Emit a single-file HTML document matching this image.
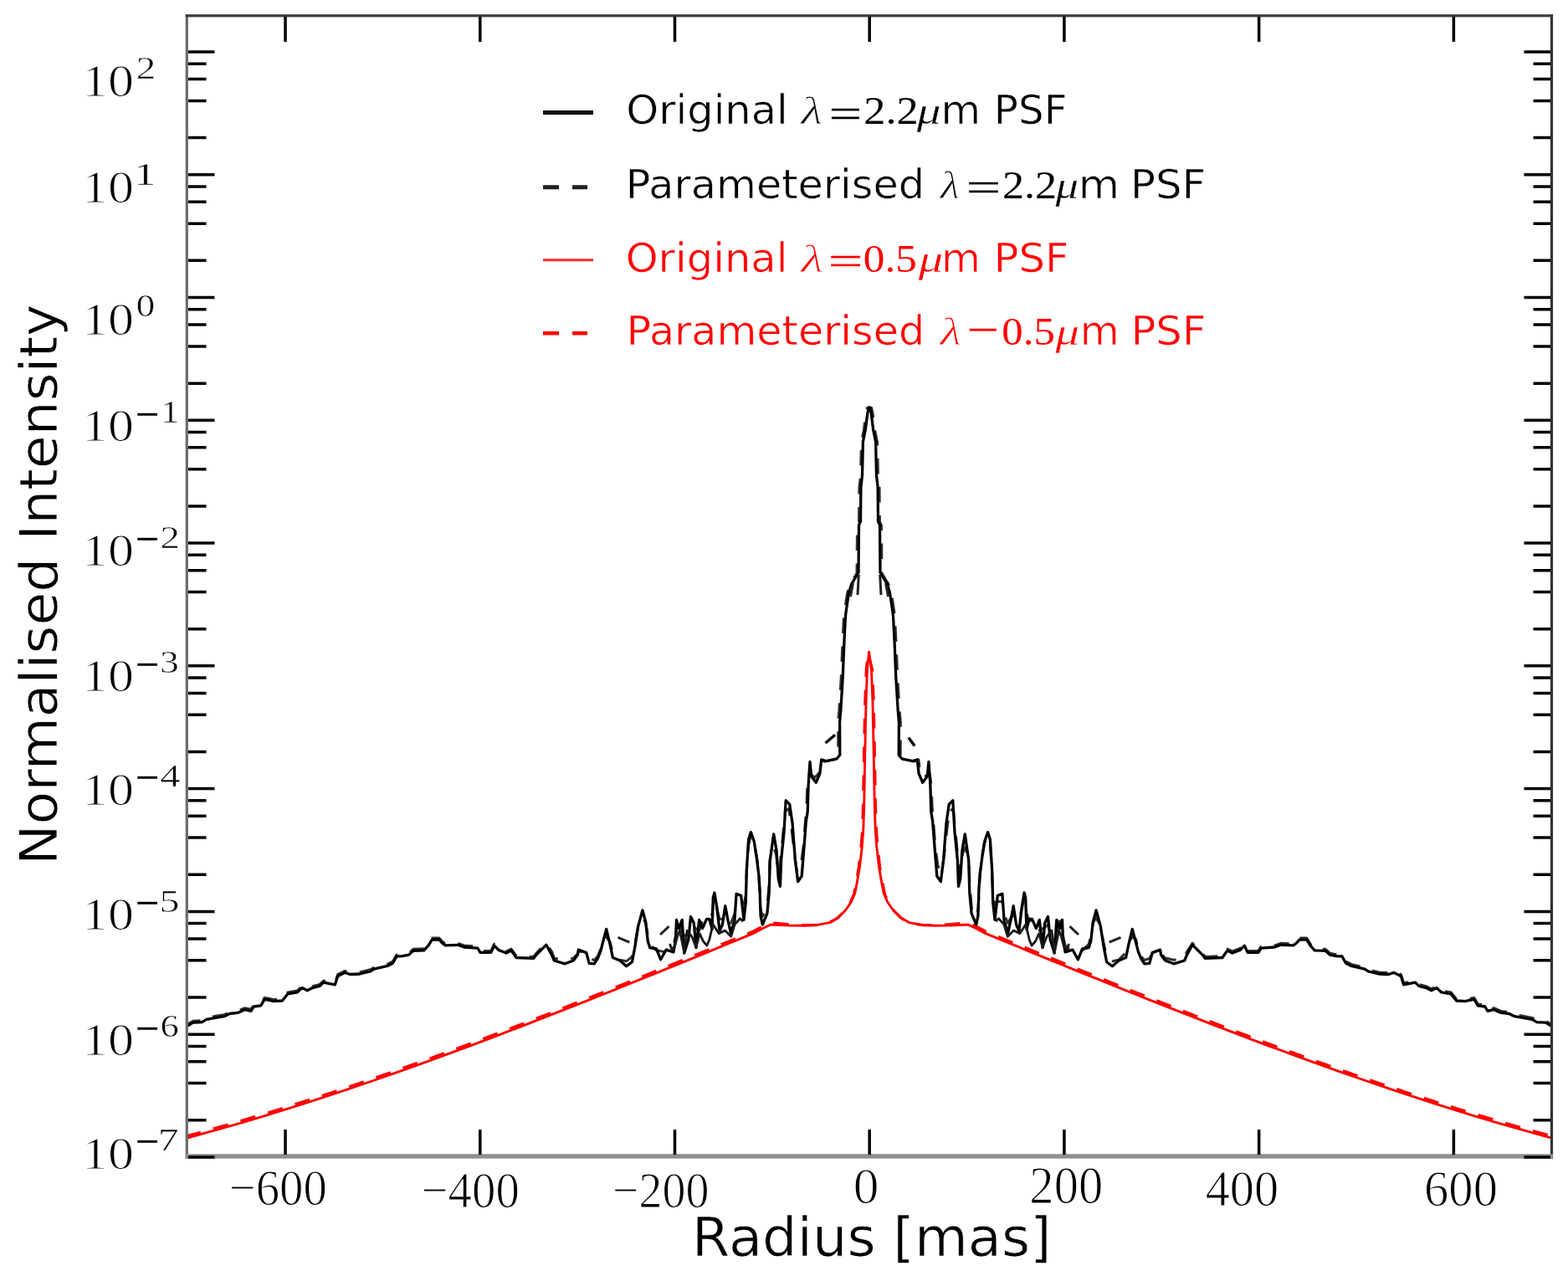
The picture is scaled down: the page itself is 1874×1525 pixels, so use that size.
<!DOCTYPE html>
<html><head><meta charset="utf-8"><title>PSF profile</title><style>html,body{margin:0;padding:0;background:#fff;overflow:hidden}svg{display:block}</style></head><body>
<svg width="1874" height="1525" viewBox="0 0 1874 1525">
<rect x="0" y="0" width="1874" height="1525" fill="#fff"/>
<defs><clipPath id="ax"><rect x="224" y="19" width="1630" height="1362"/></clipPath><clipPath id="eqtop"><rect x="1150" y="385" width="50" height="12.5"/></clipPath></defs>
<g clip-path="url(#ax)" fill="none" stroke-linejoin="round">
<polyline points="222.0,1358.0 238.0,1353.7 254.0,1349.2 270.0,1344.7 286.0,1340.1 302.0,1335.4 318.0,1330.6 334.0,1325.7 350.0,1320.7 366.0,1315.6 382.0,1310.4 398.0,1305.2 414.0,1299.8 430.0,1294.4 446.0,1289.0 462.0,1283.4 478.0,1277.8 494.0,1272.1 510.0,1266.4 526.0,1260.6 542.0,1254.7 558.0,1248.8 574.0,1242.8 590.0,1236.8 606.0,1230.7 622.0,1224.6 638.0,1218.4 654.0,1212.2 670.0,1205.9 686.0,1199.6 702.0,1193.3 718.0,1187.0 734.0,1180.6 750.0,1174.2 766.0,1167.7 782.0,1161.3 798.0,1154.8 814.0,1148.3 830.0,1141.8 846.0,1135.3 862.0,1128.7 878.0,1122.2 894.0,1115.7 900.0,1113.2 910.8,1107.5 920.9,1102.8 942.5,1104.7 959.3,1105.6 974.8,1105.6 990.3,1103.3 1000.8,1097.3 1009.2,1088.8 1015.8,1079.3 1020.5,1068.8 1023.3,1054.3 1026.3,1036.8 1029.0,1013.3 1030.6,992.3 1031.6,960.8 1032.6,900.8 1033.8,840.8 1035.3,800.8 1037.4,780.0 1042.7,800.8 1044.2,840.8 1045.4,900.8 1046.4,960.8 1047.4,992.3 1049.0,1013.3 1051.7,1036.8 1054.7,1054.3 1057.5,1068.8 1062.2,1079.3 1068.8,1088.8 1077.2,1097.3 1087.7,1103.3 1103.2,1105.6 1118.7,1105.6 1135.5,1104.7 1157.1,1102.8 1167.2,1107.5 1178.0,1113.2 1184.0,1115.7 1200.0,1122.2 1216.0,1128.7 1232.0,1135.3 1248.0,1141.8 1264.0,1148.3 1280.0,1154.8 1296.0,1161.3 1312.0,1167.7 1328.0,1174.2 1344.0,1180.6 1360.0,1187.0 1376.0,1193.3 1392.0,1199.6 1408.0,1205.9 1424.0,1212.2 1440.0,1218.4 1456.0,1224.6 1472.0,1230.7 1488.0,1236.8 1504.0,1242.8 1520.0,1248.8 1536.0,1254.7 1552.0,1260.6 1568.0,1266.4 1584.0,1272.1 1600.0,1277.8 1616.0,1283.4 1632.0,1289.0 1648.0,1294.4 1664.0,1299.8 1680.0,1305.2 1696.0,1310.4 1712.0,1315.6 1728.0,1320.7 1744.0,1325.7 1760.0,1330.6 1776.0,1335.4 1792.0,1340.1 1808.0,1344.7 1824.0,1349.2 1840.0,1353.7 1856.0,1358.0" stroke="#ff0000" stroke-width="3.2" stroke-dasharray="18.5 15.5"/>
<polyline points="222.0,1360.5 238.0,1356.2 254.0,1351.7 270.0,1347.2 286.0,1342.6 302.0,1337.9 318.0,1333.1 334.0,1328.2 350.0,1323.2 366.0,1318.1 382.0,1312.9 398.0,1307.7 414.0,1302.3 430.0,1296.9 446.0,1291.5 462.0,1285.9 478.0,1280.3 494.0,1274.6 510.0,1268.9 526.0,1263.1 542.0,1257.2 558.0,1251.3 574.0,1245.3 590.0,1239.3 606.0,1233.2 622.0,1227.1 638.0,1220.9 654.0,1214.7 670.0,1208.4 686.0,1202.1 702.0,1195.8 718.0,1189.5 734.0,1183.1 750.0,1176.7 766.0,1170.2 782.0,1163.8 798.0,1157.3 814.0,1150.8 830.0,1144.3 846.0,1137.8 862.0,1131.2 878.0,1124.7 894.0,1118.2 900.0,1115.7 910.8,1110.0 921.0,1105.0 942.9,1106.0 960.0,1106.2 975.7,1105.6 991.5,1102.6 1002.0,1096.5 1010.4,1088.0 1017.0,1078.5 1021.7,1068.0 1024.5,1053.5 1027.5,1036.0 1030.2,1012.5 1031.8,991.5 1032.8,960.0 1033.8,900.0 1035.0,840.0 1036.5,800.0 1038.6,779.2 1041.5,800.0 1043.0,840.0 1044.2,900.0 1045.2,960.0 1046.2,991.5 1047.8,1012.5 1050.5,1036.0 1053.5,1053.5 1056.3,1068.0 1061.0,1078.5 1067.6,1088.0 1076.0,1096.5 1086.5,1102.6 1102.3,1105.6 1118.0,1106.2 1135.1,1106.0 1157.0,1105.0 1167.2,1110.0 1178.0,1115.7 1184.0,1118.2 1200.0,1124.7 1216.0,1131.2 1232.0,1137.8 1248.0,1144.3 1264.0,1150.8 1280.0,1157.3 1296.0,1163.8 1312.0,1170.2 1328.0,1176.7 1344.0,1183.1 1360.0,1189.5 1376.0,1195.8 1392.0,1202.1 1408.0,1208.4 1424.0,1214.7 1440.0,1220.9 1456.0,1227.1 1472.0,1233.2 1488.0,1239.3 1504.0,1245.3 1520.0,1251.3 1536.0,1257.2 1552.0,1263.1 1568.0,1268.9 1584.0,1274.6 1600.0,1280.3 1616.0,1285.9 1632.0,1291.5 1648.0,1296.9 1664.0,1302.3 1680.0,1307.7 1696.0,1312.9 1712.0,1318.1 1728.0,1323.2 1744.0,1328.2 1760.0,1333.1 1776.0,1337.9 1792.0,1342.6 1808.0,1347.2 1824.0,1351.7 1840.0,1356.2 1856.0,1360.5" stroke="#ff0000" stroke-width="2.9"/>
<polyline points="222.0,1224.0 225.3,1223.4 230.7,1220.2 241.3,1219.6 246.7,1216.4 260.6,1213.8 268.0,1212.7 274.4,1209.5 284.0,1208.4 292.6,1204.7 300.0,1206.3 303.2,1201.0 311.8,1199.9 316.1,1192.4 322.5,1193.5 326.7,1194.6 337.4,1194.0 343.8,1186.0 355.5,1183.9 360.9,1178.6 367.3,1181.8 373.7,1178.6 382.2,1176.4 386.5,1172.2 400.4,1174.8 403.6,1164.7 407.8,1162.5 412.1,1160.4 418.5,1162.5 429.9,1162.0 442.7,1158.8 447.0,1156.2 463.0,1152.4 469.4,1149.2 474.0,1141.0 481.1,1140.7 488.6,1139.1 493.9,1134.3 506.7,1133.8 512.1,1127.9 516.3,1121.0 524.9,1121.0 528.1,1124.7 532.3,1127.9 547.3,1127.3 554.7,1130.0 570.8,1131.1 574.0,1136.4 586.8,1136.4 590.7,1128.2 596.0,1133.5 605.1,1137.0 611.1,1134.0 617.1,1142.5 637.6,1143.4 641.0,1139.1 652.9,1127.2 659.8,1137.7 662.3,1145.3 675.1,1147.3 685.4,1145.0 690.5,1139.4 691.4,1136.3 700.8,1139.7 704.2,1145.3 710.2,1147.5 714.4,1142.7 717.8,1134.3 720.4,1122.6 724.7,1119.8 729.0,1125.7 732.4,1138.3 740.9,1147.1 748.6,1148.8 755.4,1143.3 758.9,1127.4 762.7,1106.8 767.9,1097.0 771.7,1103.0 774.3,1117.9 776.8,1128.6 784.5,1135.8 789.6,1136.7 796.0,1137.9 805.0,1129.8 807.6,1117.9 808.5,1108.5 811.4,1100.8 815.2,1114.0 817.8,1118.3 822.9,1117.0 825.5,1105.0 829.3,1108.5 831.9,1109.8 835.7,1111.9 839.6,1100.4 844.5,1100.1 847.8,1100.4 851.1,1091.8 852.3,1081.4 853.9,1072.5 856.7,1085.9 860.1,1098.5 863.4,1098.2 866.8,1094.1 870.1,1097.4 873.4,1103.3 877.9,1092.6 880.1,1077.7 885.7,1077.3 889.0,1080.7 891.3,1070.3 892.4,1038.3 894.6,1010.4 897.4,999.3 901.3,1007.5 904.6,1024.7 906.7,1043.4 907.8,1065.7 908.9,1085.4 911.1,1095.5 916.5,1086.4 918.8,1060.8 919.9,1029.2 924.2,1012.6 927.5,1020.1 929.7,1041.0 931.8,1044.8 932.9,1026.3 936.2,992.2 938.4,969.9 942.8,966.3 946.0,990.2 949.4,1021.1 952.6,1042.4 957.0,1035.1 960.2,1011.0 962.1,985.5 963.9,963.3 964.8,939.8 966.6,925.8 968.4,924.6 973.8,929.3 978.3,924.6 980.0,908.1 985.4,910.1 998.1,907.6 1001.8,903.0 1001.6,863.6 1002.8,849.9 1005.3,809.0 1007.0,766.4 1008.3,740.8 1008.8,734.2 1010.8,720.4 1012.7,708.6 1015.7,698.8 1020.6,690.8 1024.0,685.0 1024.5,628.0 1026.5,624.0 1026.9,582.8 1028.5,569.0 1029.4,528.6 1032.4,513.9 1034.8,494.8 1036.3,487.6 1041.7,487.6 1043.2,494.8 1045.6,513.9 1048.6,528.6 1049.5,569.0 1051.1,582.8 1051.5,624.0 1053.5,628.0 1054.0,685.0 1057.4,690.8 1062.3,698.8 1065.3,708.6 1067.2,720.4 1069.2,734.2 1069.7,740.8 1071.0,766.4 1072.7,809.0 1075.2,849.9 1076.4,863.6 1076.2,903.0 1079.9,907.6 1092.6,910.1 1098.0,908.1 1099.7,924.6 1104.2,929.3 1109.6,924.6 1111.4,925.8 1113.2,939.8 1114.1,963.3 1115.9,985.5 1117.8,1011.1 1121.0,1035.1 1125.4,1042.4 1128.6,1021.1 1132.0,990.2 1135.2,966.3 1139.6,969.9 1141.8,992.2 1145.1,1026.3 1146.2,1044.8 1148.3,1041.0 1150.5,1020.1 1153.8,1012.6 1158.1,1029.2 1159.2,1060.8 1161.5,1086.4 1166.9,1095.5 1169.1,1085.4 1170.2,1065.7 1171.3,1043.4 1173.4,1024.7 1176.7,1007.5 1180.6,999.3 1183.4,1010.4 1185.6,1038.3 1186.7,1070.3 1189.0,1080.7 1192.3,1077.3 1197.9,1077.7 1200.1,1092.6 1204.6,1103.3 1207.9,1097.4 1211.2,1094.1 1214.6,1098.2 1217.9,1098.5 1221.3,1085.9 1224.1,1072.5 1225.7,1081.4 1226.9,1091.8 1230.2,1100.4 1233.5,1100.1 1238.4,1100.4 1242.3,1111.9 1246.1,1109.8 1248.7,1108.5 1252.5,1105.0 1255.1,1117.0 1260.2,1118.3 1262.8,1114.0 1266.6,1100.8 1269.5,1108.5 1270.4,1117.9 1273.0,1129.8 1282.0,1137.9 1288.4,1136.7 1293.5,1135.8 1301.2,1128.6 1303.7,1117.9 1306.3,1103.0 1310.1,1097.0 1315.3,1106.8 1319.1,1127.4 1322.6,1143.3 1329.4,1148.8 1337.1,1147.1 1345.6,1138.3 1349.0,1125.7 1353.3,1119.8 1357.6,1122.6 1360.2,1134.3 1363.6,1142.7 1367.8,1147.5 1373.8,1145.3 1377.2,1139.7 1386.6,1136.3 1387.5,1139.4 1392.6,1145.0 1402.9,1147.3 1415.7,1145.3 1418.2,1137.7 1425.1,1127.2 1437.0,1139.1 1440.4,1143.4 1460.9,1142.5 1466.9,1134.0 1472.9,1137.0 1482.0,1133.5 1487.3,1128.2 1491.2,1136.4 1504.0,1136.4 1507.2,1131.1 1523.3,1130.0 1530.7,1127.3 1545.7,1127.9 1549.9,1124.7 1553.1,1121.0 1561.7,1121.0 1565.9,1127.9 1571.3,1133.8 1584.1,1134.3 1589.4,1139.1 1596.9,1140.7 1604.0,1141.0 1608.6,1149.2 1615.0,1152.4 1631.0,1156.2 1635.3,1158.8 1648.1,1162.0 1659.5,1162.5 1665.9,1160.4 1670.2,1162.5 1674.4,1164.7 1677.6,1174.8 1691.5,1172.2 1695.8,1176.4 1704.3,1178.6 1710.7,1181.8 1717.1,1178.6 1722.5,1183.9 1734.2,1186.0 1740.6,1194.0 1751.3,1194.6 1755.5,1193.5 1761.9,1192.4 1766.2,1199.9 1774.8,1201.0 1778.0,1206.3 1785.4,1204.7 1794.0,1208.4 1803.6,1209.5 1810.0,1212.7 1817.4,1213.8 1831.3,1216.4 1836.7,1219.6 1847.3,1220.2 1852.7,1223.4 1856.0,1224.0" stroke="#333" stroke-width="3.0" stroke-dasharray="18.5 15.5"/>
<polyline points="222.0,1226.0 225.3,1225.4 230.7,1222.2 241.3,1221.6 246.7,1218.4 260.6,1215.8 268.0,1214.7 274.4,1211.5 284.0,1210.4 292.6,1206.7 300.0,1208.3 303.2,1203.0 311.8,1201.9 316.1,1194.4 322.5,1195.5 326.7,1196.6 337.4,1196.0 343.8,1188.0 355.5,1185.9 360.9,1180.6 367.3,1183.8 373.7,1180.6 382.2,1178.4 386.5,1174.2 400.4,1176.8 403.6,1166.7 407.8,1164.5 412.1,1162.4 418.5,1164.5 429.9,1164.0 442.7,1160.8 447.0,1158.2 463.0,1154.4 469.4,1151.2 474.0,1143.0 481.1,1142.7 488.6,1141.1 493.9,1136.3 506.7,1135.8 512.1,1129.9 516.3,1123.0 524.9,1123.0 528.1,1126.7 532.3,1129.9 547.3,1129.3 554.7,1132.0 570.8,1133.1 574.0,1138.4 586.8,1138.4 590.7,1130.2 596.0,1135.5 605.1,1139.0 611.1,1136.0 617.1,1144.5 637.6,1145.4 641.0,1141.1 652.9,1129.2 659.8,1142.0 662.3,1148.0 675.1,1151.8 685.4,1148.0 690.5,1141.1 691.4,1135.1 700.8,1138.6 704.2,1151.4 710.2,1151.8 714.4,1145.4 717.8,1136.9 720.4,1126.6 724.7,1110.4 729.0,1128.3 732.4,1144.5 740.9,1148.0 748.6,1154.8 755.4,1149.7 758.9,1131.4 762.7,1107.0 767.9,1087.9 771.7,1102.0 774.3,1125.0 776.8,1132.7 784.5,1134.0 789.6,1146.8 796.0,1135.2 805.0,1137.8 807.6,1122.4 808.5,1099.4 811.4,1109.6 815.2,1099.4 817.8,1139.1 822.9,1122.4 825.5,1095.5 829.3,1103.2 831.9,1132.7 835.7,1099.4 839.6,1109.6 844.5,1098.3 847.8,1098.3 851.1,1110.5 852.3,1072.6 853.9,1067.0 856.7,1083.8 860.1,1112.8 863.4,1105.0 866.8,1082.7 870.1,1100.5 873.4,1115.0 877.9,1100.5 880.1,1068.2 885.7,1070.4 889.0,1099.4 891.3,1078.2 892.4,1039.2 894.6,1003.5 897.4,994.6 901.3,1005.7 904.7,1028.0 906.9,1045.9 908.0,1061.5 909.1,1094.9 911.3,1105.0 916.9,1091.6 919.2,1067.0 920.3,1028.0 924.7,996.8 928.1,1016.9 930.3,1050.3 932.5,1059.3 933.6,1028.0 937.0,994.6 939.2,956.7 943.7,961.1 947.0,983.4 950.4,1028.0 953.7,1053.7 958.2,1047.0 961.5,1005.7 963.4,981.2 965.2,970.2 966.1,939.0 968.0,910.5 969.8,928.0 975.3,935.3 979.9,924.3 981.7,907.8 987.2,909.6 1000.1,906.8 1003.8,902.2 1003.6,862.8 1004.8,849.1 1007.3,808.2 1009.0,765.6 1010.3,740.0 1010.8,733.4 1012.8,719.6 1014.7,707.8 1017.7,698.0 1022.6,690.0 1026.0,684.2 1026.5,627.2 1028.5,623.2 1028.9,582.0 1030.5,568.2 1031.4,527.8 1034.4,513.1 1036.8,494.0 1038.3,486.8 1039.7,486.8 1041.2,494.0 1043.6,513.1 1046.6,527.8 1047.5,568.2 1049.1,582.0 1049.5,623.2 1051.5,627.2 1052.0,684.2 1055.4,690.0 1060.3,698.0 1063.3,707.8 1065.2,719.6 1067.2,733.4 1067.7,740.0 1069.0,765.6 1070.7,808.2 1073.2,849.1 1074.4,862.8 1074.2,902.2 1077.9,906.8 1090.8,909.6 1096.3,907.8 1098.1,924.3 1102.7,935.3 1108.2,928.0 1110.0,910.5 1111.9,939.0 1112.8,970.2 1114.6,981.2 1116.5,1005.7 1119.8,1047.0 1124.3,1053.7 1127.6,1028.0 1131.0,983.4 1134.3,961.1 1138.8,956.7 1141.0,994.6 1144.4,1028.0 1145.5,1059.3 1147.7,1050.3 1149.9,1016.9 1153.3,996.8 1157.7,1028.0 1158.8,1067.0 1161.1,1091.6 1166.7,1105.0 1168.9,1094.9 1170.0,1061.5 1171.1,1045.9 1173.3,1028.0 1176.7,1005.7 1180.6,994.6 1183.4,1003.5 1185.6,1039.2 1186.7,1078.2 1189.0,1099.4 1192.3,1070.4 1197.9,1068.2 1200.1,1100.5 1204.6,1115.0 1207.9,1100.5 1211.2,1082.7 1214.6,1105.0 1217.9,1112.8 1221.3,1083.8 1224.1,1067.0 1225.7,1072.6 1226.9,1110.5 1230.2,1098.3 1233.5,1098.3 1238.4,1109.6 1242.3,1099.4 1246.1,1132.7 1248.7,1103.2 1252.5,1095.5 1255.1,1122.4 1260.2,1139.1 1262.8,1099.4 1266.6,1109.6 1269.5,1099.4 1270.4,1122.4 1273.0,1137.8 1282.0,1135.2 1288.4,1146.8 1293.5,1134.0 1301.2,1132.7 1303.7,1125.0 1306.3,1102.0 1310.1,1087.9 1315.3,1107.0 1319.1,1131.4 1322.6,1149.7 1329.4,1154.8 1337.1,1148.0 1345.6,1144.5 1349.0,1128.3 1353.3,1110.4 1357.6,1126.6 1360.2,1136.9 1363.6,1145.4 1367.8,1151.8 1373.8,1151.4 1377.2,1138.6 1386.6,1135.1 1387.5,1141.1 1392.6,1148.0 1402.9,1151.8 1415.7,1148.0 1418.2,1142.0 1425.1,1129.2 1437.0,1141.1 1440.4,1145.4 1460.9,1144.5 1466.9,1136.0 1472.9,1139.0 1482.0,1135.5 1487.3,1130.2 1491.2,1138.4 1504.0,1138.4 1507.2,1133.1 1523.3,1132.0 1530.7,1129.3 1545.7,1129.9 1549.9,1126.7 1553.1,1123.0 1561.7,1123.0 1565.9,1129.9 1571.3,1135.8 1584.1,1136.3 1589.4,1141.1 1596.9,1142.7 1604.0,1143.0 1608.6,1151.2 1615.0,1154.4 1631.0,1158.2 1635.3,1160.8 1648.1,1164.0 1659.5,1164.5 1665.9,1162.4 1670.2,1164.5 1674.4,1166.7 1677.6,1176.8 1691.5,1174.2 1695.8,1178.4 1704.3,1180.6 1710.7,1183.8 1717.1,1180.6 1722.5,1185.9 1734.2,1188.0 1740.6,1196.0 1751.3,1196.6 1755.5,1195.5 1761.9,1194.4 1766.2,1201.9 1774.8,1203.0 1778.0,1208.3 1785.4,1206.7 1794.0,1210.4 1803.6,1211.5 1810.0,1214.7 1817.4,1215.8 1831.3,1218.4 1836.7,1221.6 1847.3,1222.2 1852.7,1225.4 1856.0,1226.0" stroke="#000" stroke-width="3.3"/>
<polyline points="800.5,1128.0 803.0,1135.0 806.7,1130.1 809.6,1119.3 812.4,1112.1 815.0,1125.0 817.5,1137.3 821.1,1112.1 826.9,1119.3 831.9,1132.3 836.2,1115.7 840.5,1125.0 844.9,1130.1 847.8,1122.9 852.1,1104.9 859.3,1115.7 866.5,1112.1 873.7,1119.3 878.1,1104.9 884.5,1097.7 888.1,1101.3" stroke="#1a1a1a" stroke-width="2.8"/>
<polyline points="1189.9,1101.3 1193.5,1097.7 1199.9,1104.9 1204.3,1119.3 1211.5,1112.1 1218.7,1115.7 1225.9,1104.9 1230.2,1122.9 1233.1,1130.1 1237.5,1125.0 1241.8,1115.7 1246.1,1132.3 1251.1,1119.3 1256.9,1112.1 1260.5,1137.3 1263.0,1125.0 1265.6,1112.1 1268.4,1119.3 1271.3,1130.1 1275.0,1135.0 1277.5,1128.0" stroke="#1a1a1a" stroke-width="2.8"/>
<polyline points="738.5,1120.3 752.3,1126.2" stroke="#222" stroke-width="3"/>
<polyline points="1325.7,1126.2 1339.5,1120.3" stroke="#222" stroke-width="3"/>
<polyline points="789.0,1117.0 799.5,1107.2" stroke="#222" stroke-width="3"/>
<polyline points="1278.5,1107.2 1289.0,1117.0" stroke="#222" stroke-width="3"/>
<polyline points="1026.3,687.0 1025.0,711.0" stroke="#222" stroke-width="3"/>
<polyline points="1053.0,711.0 1051.7,687.0" stroke="#222" stroke-width="3"/>
<polyline points="1019.5,697.0 1016.5,713.0" stroke="#222" stroke-width="3"/>
<polyline points="1061.5,713.0 1058.5,697.0" stroke="#222" stroke-width="3"/>
<line x1="986.6" y1="888" x2="998.1" y2="878.3" stroke="#000" stroke-width="3.4"/>
<line x1="1085.8" y1="881.5" x2="1093.2" y2="891.6" stroke="#000" stroke-width="3.4"/>
</g>
<rect x="221.7" y="17.2" width="3.2" height="1367.6" fill="#6a6a6a"/>
<rect x="1852.9" y="17.2" width="3.2" height="1367.6" fill="#333"/>
<rect x="221.7" y="17.2" width="1634.4" height="3.2" fill="#3c3c3c"/>
<rect x="221.7" y="1379.2" width="1634.4" height="5.4" fill="#8f8f8f"/>
<path d="M341.04 1380V1350 M341.04 20V50 M573.76 1380V1350 M573.76 20V50 M806.48 1380V1350 M806.48 20V50 M1039.20 1380V1350 M1039.20 20V50 M1271.92 1380V1350 M1271.92 20V50 M1504.64 1380V1350 M1504.64 20V50 M1737.36 1380V1350 M1737.36 20V50 M225 1382.93H256.5 M1853 1382.93H1821.5 M225 1338.75H246.5 M1853 1338.75H1832.5 M225 1294.57H246.5 M1853 1294.57H1832.5 M225 1268.72H246.5 M1853 1268.72H1832.5 M225 1250.38H246.5 M1853 1250.38H1832.5 M225 1236.16H256.5 M1853 1236.16H1821.5 M225 1191.98H246.5 M1853 1191.98H1832.5 M225 1147.80H246.5 M1853 1147.80H1832.5 M225 1121.95H246.5 M1853 1121.95H1832.5 M225 1103.61H246.5 M1853 1103.61H1832.5 M225 1089.39H256.5 M1853 1089.39H1821.5 M225 1045.21H246.5 M1853 1045.21H1832.5 M225 1001.03H246.5 M1853 1001.03H1832.5 M225 975.18H246.5 M1853 975.18H1832.5 M225 956.84H246.5 M1853 956.84H1832.5 M225 942.62H256.5 M1853 942.62H1821.5 M225 898.44H246.5 M1853 898.44H1832.5 M225 854.26H246.5 M1853 854.26H1832.5 M225 828.41H246.5 M1853 828.41H1832.5 M225 810.07H246.5 M1853 810.07H1832.5 M225 795.85H256.5 M1853 795.85H1821.5 M225 751.67H246.5 M1853 751.67H1832.5 M225 707.49H246.5 M1853 707.49H1832.5 M225 681.64H246.5 M1853 681.64H1832.5 M225 663.30H246.5 M1853 663.30H1832.5 M225 649.08H256.5 M1853 649.08H1821.5 M225 604.90H246.5 M1853 604.90H1832.5 M225 560.72H246.5 M1853 560.72H1832.5 M225 534.87H246.5 M1853 534.87H1832.5 M225 516.53H246.5 M1853 516.53H1832.5 M225 502.31H256.5 M1853 502.31H1821.5 M225 458.13H246.5 M1853 458.13H1832.5 M225 413.95H246.5 M1853 413.95H1832.5 M225 388.10H246.5 M1853 388.10H1832.5 M225 369.76H246.5 M1853 369.76H1832.5 M225 355.54H256.5 M1853 355.54H1821.5 M225 311.36H246.5 M1853 311.36H1832.5 M225 267.18H246.5 M1853 267.18H1832.5 M225 241.33H246.5 M1853 241.33H1832.5 M225 222.99H246.5 M1853 222.99H1832.5 M225 208.77H256.5 M1853 208.77H1821.5 M225 164.59H246.5 M1853 164.59H1832.5 M225 120.41H246.5 M1853 120.41H1832.5 M225 94.56H246.5 M1853 94.56H1832.5 M225 76.22H246.5 M1853 76.22H1832.5 M225 62.00H256.5 M1853 62.00H1821.5" stroke="#000" stroke-width="3.5" fill="none"/>
<text transform="translate(97.91,115.00) scale(1.1255,1)" font-family="&quot;Liberation Serif&quot;, serif" font-style="normal" font-size="55.15" fill="#000" stroke="#fff" stroke-width="1.1" >10</text>
<text transform="translate(162.72,93.60) scale(1.2319,1)" font-family="&quot;Liberation Serif&quot;, serif" font-style="normal" font-size="38.15" fill="#000" stroke="#fff" stroke-width="0.5" >2</text>
<text transform="translate(97.91,242.10) scale(1.1255,1)" font-family="&quot;Liberation Serif&quot;, serif" font-style="normal" font-size="55.15" fill="#000" stroke="#fff" stroke-width="1.1" >10</text>
<text transform="translate(159.77,220.70) scale(1.4295,1)" font-family="&quot;Liberation Serif&quot;, serif" font-style="normal" font-size="37.58" fill="#000" stroke="#fff" stroke-width="0.5" >1</text>
<text transform="translate(97.91,400.40) scale(1.1255,1)" font-family="&quot;Liberation Serif&quot;, serif" font-style="normal" font-size="55.15" fill="#000" stroke="#fff" stroke-width="1.1" >10</text>
<text transform="translate(162.81,378.26) scale(1.2093,1)" font-family="&quot;Liberation Serif&quot;, serif" font-style="normal" font-size="37.01" fill="#000" stroke="#fff" stroke-width="0.5" >0</text>
<text transform="translate(97.91,526.70) scale(1.1255,1)" font-family="&quot;Liberation Serif&quot;, serif" font-style="normal" font-size="55.15" fill="#000" stroke="#fff" stroke-width="1.1" >10</text>
<text transform="translate(161.76,514.50) scale(0.8475,1)" font-family="&quot;Liberation Serif&quot;, serif" font-style="normal" font-size="60.00" fill="#000"  >−</text>
<text transform="translate(192.01,505.30) scale(1.2090,1)" font-family="&quot;Liberation Serif&quot;, serif" font-style="normal" font-size="37.58" fill="#000" stroke="#fff" stroke-width="0.5" >1</text>
<text transform="translate(97.91,676.30) scale(1.1255,1)" font-family="&quot;Liberation Serif&quot;, serif" font-style="normal" font-size="55.15" fill="#000" stroke="#fff" stroke-width="1.1" >10</text>
<text transform="translate(161.76,664.10) scale(0.8475,1)" font-family="&quot;Liberation Serif&quot;, serif" font-style="normal" font-size="60.00" fill="#000"  >−</text>
<text transform="translate(191.53,654.90) scale(1.2253,1)" font-family="&quot;Liberation Serif&quot;, serif" font-style="normal" font-size="38.15" fill="#000" stroke="#fff" stroke-width="0.5" >2</text>
<text transform="translate(97.91,825.80) scale(1.1255,1)" font-family="&quot;Liberation Serif&quot;, serif" font-style="normal" font-size="55.15" fill="#000" stroke="#fff" stroke-width="1.1" >10</text>
<text transform="translate(161.76,813.60) scale(0.8475,1)" font-family="&quot;Liberation Serif&quot;, serif" font-style="normal" font-size="60.00" fill="#000"  >−</text>
<text transform="translate(191.12,804.02) scale(1.2138,1)" font-family="&quot;Liberation Serif&quot;, serif" font-style="normal" font-size="37.58" fill="#000" stroke="#fff" stroke-width="0.5" >3</text>
<text transform="translate(97.91,961.60) scale(1.1255,1)" font-family="&quot;Liberation Serif&quot;, serif" font-style="normal" font-size="55.15" fill="#000" stroke="#fff" stroke-width="1.1" >10</text>
<text transform="translate(161.76,949.40) scale(0.8475,1)" font-family="&quot;Liberation Serif&quot;, serif" font-style="normal" font-size="60.00" fill="#000"  >−</text>
<text transform="translate(191.23,940.20) scale(1.2763,1)" font-family="&quot;Liberation Serif&quot;, serif" font-style="normal" font-size="38.15" fill="#000" stroke="#fff" stroke-width="0.5" >4</text>
<text transform="translate(97.91,1111.30) scale(1.1255,1)" font-family="&quot;Liberation Serif&quot;, serif" font-style="normal" font-size="55.15" fill="#000" stroke="#fff" stroke-width="1.1" >10</text>
<text transform="translate(161.76,1099.10) scale(0.8475,1)" font-family="&quot;Liberation Serif&quot;, serif" font-style="normal" font-size="60.00" fill="#000"  >−</text>
<text transform="translate(190.52,1089.52) scale(1.2774,1)" font-family="&quot;Liberation Serif&quot;, serif" font-style="normal" font-size="37.58" fill="#000" stroke="#fff" stroke-width="0.5" >5</text>
<text transform="translate(97.91,1260.80) scale(1.1255,1)" font-family="&quot;Liberation Serif&quot;, serif" font-style="normal" font-size="55.15" fill="#000" stroke="#fff" stroke-width="1.1" >10</text>
<text transform="translate(161.76,1248.60) scale(0.8475,1)" font-family="&quot;Liberation Serif&quot;, serif" font-style="normal" font-size="60.00" fill="#000"  >−</text>
<text transform="translate(191.61,1238.66) scale(1.2063,1)" font-family="&quot;Liberation Serif&quot;, serif" font-style="normal" font-size="37.01" fill="#000" stroke="#fff" stroke-width="0.5" >6</text>
<text transform="translate(97.91,1396.60) scale(1.1255,1)" font-family="&quot;Liberation Serif&quot;, serif" font-style="normal" font-size="55.15" fill="#000" stroke="#fff" stroke-width="1.1" >10</text>
<text transform="translate(161.76,1384.40) scale(0.8475,1)" font-family="&quot;Liberation Serif&quot;, serif" font-style="normal" font-size="60.00" fill="#000"  >−</text>
<text transform="translate(188.72,1375.20) scale(1.3039,1)" font-family="&quot;Liberation Serif&quot;, serif" font-style="normal" font-size="38.15" fill="#000" stroke="#fff" stroke-width="0.5" >7</text>
<text transform="translate(273.66,1439.97) scale(0.9217,1)" font-family="&quot;Liberation Serif&quot;, serif" font-style="normal" font-size="61.64" fill="#000" stroke="#fff" stroke-width="1.1" >−600</text>
<text transform="translate(503.56,1443.27) scale(0.9217,1)" font-family="&quot;Liberation Serif&quot;, serif" font-style="normal" font-size="61.64" fill="#000" stroke="#fff" stroke-width="1.1" >−400</text>
<text transform="translate(731.90,1443.27) scale(0.9078,1)" font-family="&quot;Liberation Serif&quot;, serif" font-style="normal" font-size="61.64" fill="#000" stroke="#fff" stroke-width="1.1" >−200</text>
<text transform="translate(1019.84,1437.59) scale(1.0112,1)" font-family="&quot;Liberation Serif&quot;, serif" font-style="normal" font-size="60.75" fill="#000" stroke="#fff" stroke-width="1.1" >0</text>
<text transform="translate(1230.36,1438.35) scale(0.9391,1)" font-family="&quot;Liberation Serif&quot;, serif" font-style="normal" font-size="62.39" fill="#000" stroke="#fff" stroke-width="1.1" >200</text>
<text transform="translate(1440.63,1441.36) scale(0.9452,1)" font-family="&quot;Liberation Serif&quot;, serif" font-style="normal" font-size="61.79" fill="#000" stroke="#fff" stroke-width="1.1" >400</text>
<text transform="translate(1702.06,1441.36) scale(0.9482,1)" font-family="&quot;Liberation Serif&quot;, serif" font-style="normal" font-size="61.79" fill="#000" stroke="#fff" stroke-width="1.1" >600</text>
<text transform="translate(826.85,1501.02) scale(1.0162,1)" font-family="&quot;DejaVu Sans&quot;, serif" font-style="normal" font-size="64.49" fill="#000" stroke="#fff" stroke-width="0.7" >Radius [mas]</text>
<text transform="translate(68.40,1033.99) rotate(-90) scale(1.0398,1)" font-family="&quot;DejaVu Sans&quot;, sans-serif" font-size="62.37" fill="#000" stroke="#fff" stroke-width="0.7">Normalised Intensity</text>
<path d="M649 134.5H709" stroke="#111" stroke-width="5"/>
<path d="M649 223.7H668M684 223.7H702" stroke="#222" stroke-width="5"/>
<path d="M649 310.8H709" stroke="#ff2a2a" stroke-width="3"/>
<path d="M649 398.2H668M684 398.2H702" stroke="#ff0000" stroke-width="4.5"/>
<text transform="translate(748.23,148.30) scale(1.0414,1)" font-family="&quot;DejaVu Sans&quot;, sans-serif" font-style="normal" font-size="47.50" fill="#000" stroke="#fff" stroke-width="0.6">Original</text>
<text transform="translate(957.20,148.30) scale(1.2939,1)" font-family="&quot;Liberation Serif&quot;, sans-serif" font-style="italic" font-size="46.55" fill="#000" stroke="#fff" stroke-width="1.0">λ</text>
<text transform="translate(990.71,150.80) scale(1.4992,1)" font-family="&quot;Liberation Serif&quot;, sans-serif" font-style="normal" font-size="46.55" fill="#000" stroke="#000" stroke-width="0.4">=</text>
<text transform="translate(1032.31,148.30) scale(1.1227,1)" font-family="&quot;Liberation Serif&quot;, sans-serif" font-style="normal" font-size="46.55" fill="#000" >2.2</text>
<text transform="translate(1095.70,148.30) scale(1.2341,1)" font-family="&quot;Liberation Serif&quot;, sans-serif" font-style="italic" font-size="46.55" fill="#000" stroke="#fff" stroke-width="0.4">μ</text>
<text transform="translate(1124.50,148.30) scale(1.0289,1)" font-family="&quot;DejaVu Sans&quot;, sans-serif" font-style="normal" font-size="47.50" fill="#000" stroke="#fff" stroke-width="0.6">m</text>
<text transform="translate(1187.86,148.30) scale(1.0182,1)" font-family="&quot;DejaVu Sans&quot;, sans-serif" font-style="normal" font-size="47.50" fill="#000" stroke="#fff" stroke-width="0.6">PSF</text>
<text transform="translate(747.87,236.60) scale(1.0371,1)" font-family="&quot;DejaVu Sans&quot;, sans-serif" font-style="normal" font-size="47.50" fill="#000" stroke="#fff" stroke-width="0.6">Parameterised</text>
<text transform="translate(1123.78,236.60) scale(1.1640,1)" font-family="&quot;Liberation Serif&quot;, sans-serif" font-style="italic" font-size="46.55" fill="#000" stroke="#fff" stroke-width="1.0">λ</text>
<text transform="translate(1154.64,239.10) scale(1.5723,1)" font-family="&quot;Liberation Serif&quot;, sans-serif" font-style="normal" font-size="46.55" fill="#000" stroke="#000" stroke-width="0.4">=</text>
<text transform="translate(1197.91,236.60) scale(1.1208,1)" font-family="&quot;Liberation Serif&quot;, sans-serif" font-style="normal" font-size="46.55" fill="#000" >2.2</text>
<text transform="translate(1261.40,236.60) scale(1.1792,1)" font-family="&quot;Liberation Serif&quot;, sans-serif" font-style="italic" font-size="46.55" fill="#000" stroke="#fff" stroke-width="0.4">μ</text>
<text transform="translate(1288.74,236.60) scale(1.0658,1)" font-family="&quot;DejaVu Sans&quot;, sans-serif" font-style="normal" font-size="47.50" fill="#000" stroke="#fff" stroke-width="0.6">m</text>
<text transform="translate(1350.92,236.60) scale(1.0475,1)" font-family="&quot;DejaVu Sans&quot;, sans-serif" font-style="normal" font-size="47.50" fill="#000" stroke="#fff" stroke-width="0.6">PSF</text>
<text transform="translate(747.63,324.60) scale(1.0431,1)" font-family="&quot;DejaVu Sans&quot;, sans-serif" font-style="normal" font-size="47.50" fill="#ff0000" stroke="#fff" stroke-width="0.6">Original</text>
<text transform="translate(957.35,324.60) scale(1.3439,1)" font-family="&quot;Liberation Serif&quot;, sans-serif" font-style="italic" font-size="46.55" fill="#ff0000" stroke="#fff" stroke-width="1.0">λ</text>
<text transform="translate(989.93,327.10) scale(1.5769,1)" font-family="&quot;Liberation Serif&quot;, sans-serif" font-style="normal" font-size="46.55" fill="#ff0000" stroke="#ff0000" stroke-width="0.4">=</text>
<text transform="translate(1031.85,324.60) scale(1.0998,1)" font-family="&quot;Liberation Serif&quot;, sans-serif" font-style="normal" font-size="46.55" fill="#ff0000" >0.5</text>
<text transform="translate(1097.80,324.60) scale(1.2615,1)" font-family="&quot;Liberation Serif&quot;, sans-serif" font-style="italic" font-size="46.55" fill="#ff0000" stroke="#fff" stroke-width="0.4">μ</text>
<text transform="translate(1125.07,324.60) scale(1.0132,1)" font-family="&quot;DejaVu Sans&quot;, sans-serif" font-style="normal" font-size="47.50" fill="#ff0000" stroke="#fff" stroke-width="0.6">m</text>
<text transform="translate(1187.53,324.60) scale(1.0463,1)" font-family="&quot;DejaVu Sans&quot;, sans-serif" font-style="normal" font-size="47.50" fill="#ff0000" stroke="#fff" stroke-width="0.6">PSF</text>
<text transform="translate(748.48,411.80) scale(1.0356,1)" font-family="&quot;DejaVu Sans&quot;, sans-serif" font-style="normal" font-size="47.50" fill="#ff0000" stroke="#fff" stroke-width="0.6">Parameterised</text>
<text transform="translate(1123.60,411.80) scale(1.2839,1)" font-family="&quot;Liberation Serif&quot;, sans-serif" font-style="italic" font-size="46.55" fill="#ff0000" stroke="#fff" stroke-width="1.0">λ</text>
<g clip-path="url(#eqtop)"><text transform="translate(1155.64,414.30) scale(1.4443,1)" font-family="&quot;Liberation Serif&quot;, sans-serif" font-style="normal" font-size="46.55" fill="#ff0000" stroke="#ff0000" stroke-width="0.4">=</text></g>
<text transform="translate(1197.37,411.80) scale(1.0888,1)" font-family="&quot;Liberation Serif&quot;, sans-serif" font-style="normal" font-size="46.55" fill="#ff0000" >0.5</text>
<text transform="translate(1261.60,411.80) scale(1.2204,1)" font-family="&quot;Liberation Serif&quot;, sans-serif" font-style="italic" font-size="46.55" fill="#ff0000" stroke="#fff" stroke-width="0.4">μ</text>
<text transform="translate(1290.87,411.80) scale(1.0132,1)" font-family="&quot;DejaVu Sans&quot;, sans-serif" font-style="normal" font-size="47.50" fill="#ff0000" stroke="#fff" stroke-width="0.6">m</text>
<text transform="translate(1351.44,411.80) scale(1.0450,1)" font-family="&quot;DejaVu Sans&quot;, sans-serif" font-style="normal" font-size="47.50" fill="#ff0000" stroke="#fff" stroke-width="0.6">PSF</text>
</svg>
</body></html>
